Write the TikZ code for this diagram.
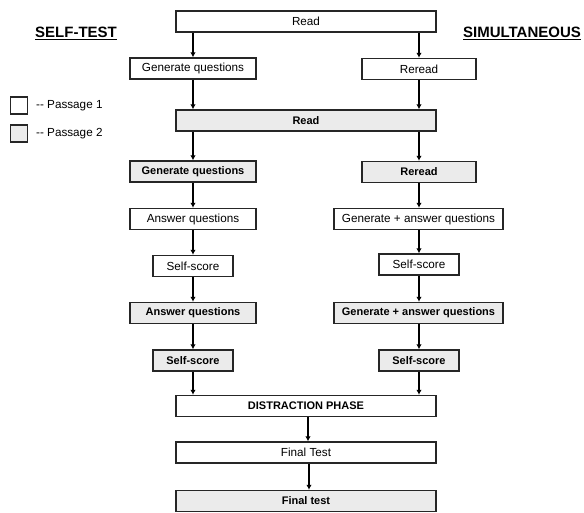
\documentclass[tikz,border=0pt]{standalone}
\usepackage{fontspec}
\setmainfont{Liberation Sans}
\usetikzlibrary{arrows.meta}
\begin{document}
\begin{tikzpicture}[x=1pt,y=-1pt,
  box/.style={draw=black!85,line width=1.4pt,inner sep=0pt,minimum height=21pt,font=\fontsize{11.7}{14}\selectfont},
  pone/.style={box,fill=white},
  ptwo/.style={box,fill=black!8,font=\fontsize{11}{14}\selectfont\bfseries},
  arr/.style={line width=2pt,-{Latex[length=5pt,width=5.5pt]}},
  head/.style={font=\fontsize{15}{17}\selectfont\bfseries},
  legbox/.style={draw=black!85,line width=1.3pt,minimum width=17pt,minimum height=17pt,inner sep=0pt},
  legtxt/.style={font=\fontsize{11.7}{14}\selectfont,anchor=west,inner sep=0pt}]
\useasboundingbox (0,0) rectangle (584,512);
% headings
\node[head] (hl) at (76,33) {\underline{SELF-TEST}};
\node[head] (hr) at (522,33) {\underline{SIMULTANEOUS}};
% legend
\node[legbox,fill=white] (l1) at (19,105.5) {};
\node[legtxt] (l1t) at (36,105.5) {-{}- Passage 1};
\node[legbox,fill=black!8] (l2) at (19,133.5) {};
\node[legtxt] (l2t) at (36,133.5) {-{}- Passage 2};
% boxes
\node[pone,minimum width=260pt] (read1) at (306,21.5) {Read};
\node[pone,minimum width=126pt] (gq1) at (193,68.5) {Generate questions};
\node[pone,minimum width=114pt] (rr1) at (419,69) {Reread};
\node[ptwo,minimum width=260pt] (read2) at (306,120.5) {Read};
\node[ptwo,minimum width=126pt] (gq2) at (193,171.5) {Generate questions};
\node[ptwo,minimum width=114pt] (rr2) at (419,172) {Reread};
\node[pone,minimum width=126pt] (aq1) at (193,219) {Answer questions};
\node[pone,minimum width=169pt] (ga1) at (418.5,219) {Generate + answer questions};
\node[pone,minimum width=80pt] (ss1) at (193,266) {Self-score};
\node[pone,minimum width=80pt] (ss1r) at (419,264.5) {Self-score};
\node[ptwo,minimum width=126pt] (aq2) at (193,313) {Answer questions};
\node[ptwo,minimum width=169pt] (ga2) at (418.5,313) {Generate + answer questions};
\node[ptwo,minimum width=80pt] (ss2) at (193,360.5) {Self-score};
\node[ptwo,minimum width=80pt] (ss2r) at (419,360.5) {Self-score};
\node[pone,minimum width=260pt,font=\fontsize{11}{14}\selectfont\bfseries] (dist) at (306,406) {DISTRACTION PHASE};
\node[pone,minimum width=260pt] (ft1) at (306,452.5) {Final Test};
\node[ptwo,minimum width=260pt] (ft2) at (306,501) {Final test};
% arrows
\draw[arr] (read1.south -| gq1.north) -- (gq1.north);
\draw[arr] (read1.south -| rr1.north) -- (rr1.north);
\draw[arr] (gq1.south) -- (gq1.south |- read2.north);
\draw[arr] (rr1.south) -- (rr1.south |- read2.north);
\draw[arr] (read2.south -| gq2.north) -- (gq2.north);
\draw[arr] (read2.south -| rr2.north) -- (rr2.north);
\draw[arr] (gq2.south) -- (gq2.south |- aq1.north);
\draw[arr] (rr2.south) -- (rr2.south |- ga1.north);
\draw[arr] (aq1.south -| ss1.north) -- (ss1.north);
\draw[arr] (ga1.south -| ss1r.north) -- (ss1r.north);
\draw[arr] (ss1.south) -- (ss1.south |- aq2.north);
\draw[arr] (ss1r.south) -- (ss1r.south |- ga2.north);
\draw[arr] (aq2.south -| ss2.north) -- (ss2.north);
\draw[arr] (ga2.south -| ss2r.north) -- (ss2r.north);
\draw[arr] (ss2.south) -- (ss2.south |- dist.north);
\draw[arr] (ss2r.south) -- (ss2r.south |- dist.north);
\draw[arr] ([xshift=2pt]dist.south) -- ([xshift=2pt]ft1.north);
\draw[arr] ([xshift=3pt]ft1.south) -- ([xshift=3pt]ft2.north);
\end{tikzpicture}
\end{document}
